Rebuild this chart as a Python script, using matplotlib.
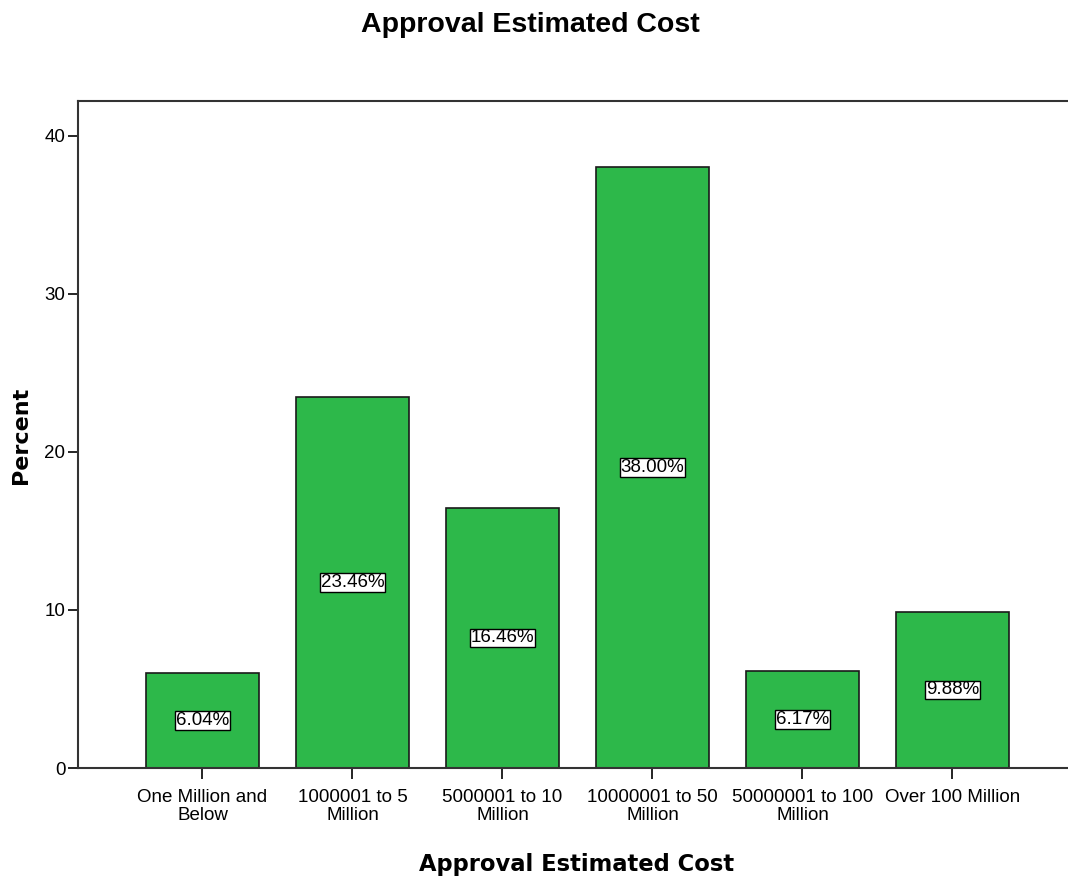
import numpy as np
import matplotlib.pyplot as plt

# Category labels and percentages
categories = ['One Million and\nBelow', '1000001 to 5\nMillion', '5000001 to 10\nMillion',
              '10000001 to 50\nMillion', '50000001 to 100\nMillion', 'Over 100 Million']
percent = [6.04, 23.46, 16.46, 38.00, 6.17, 9.88]
yticks = [0, 10, 20, 30, 40]

plt.rcParams['font.family'] = ['Liberation Sans', 'DejaVu Sans']

fig = plt.figure(figsize=(10.68, 8.83), dpi=100)
ax = fig.add_axes([0.073, 0.1302, 0.927, 0.7554])

x = np.arange(len(categories))
bars = ax.bar(x, percent, width=0.75, color='#2db84a', edgecolor='#1a1a1a', linewidth=1.2)

# value labels in white boxes at half the bar height
for xi, v in zip(x, percent):
    ax.text(xi, v / 2, f'{v:.2f}%', ha='center', va='center', fontsize=13.5,
            bbox=dict(boxstyle='square,pad=0.05', facecolor='white', edgecolor='black', linewidth=1))

ax.set_xlim(-0.83, 5.77)
ax.set_ylim(0, 42.2)
ax.set_xticks(x)
ax.set_xticklabels(categories, fontsize=13.5, linespacing=1.05)
ax.set_yticks(yticks)
ax.set_yticklabels([str(t) for t in yticks], fontsize=13.5)
ax.tick_params(axis='y', length=7, width=1.2, pad=2)
ax.tick_params(axis='x', length=8, width=1.2, pad=7)

for side in ['left', 'top', 'bottom']:
    ax.spines[side].set_linewidth(1.5)
    ax.spines[side].set_color('#333333')
ax.spines['right'].set_visible(False)

fig.text(0.540, 0.0204, 'Approval Estimated Cost', ha='center', va='center',
         fontsize=16.3, fontweight='bold', family='DejaVu Sans')
fig.text(0.0197, 0.507, 'Percent', ha='center', va='center', rotation=90,
         fontsize=16, fontweight='bold', family='DejaVu Sans')
fig.text(0.497, 0.972, 'Approval Estimated Cost', ha='center', va='center',
         fontsize=20.5, fontweight='bold')

fig.savefig('out.png', dpi=100)
